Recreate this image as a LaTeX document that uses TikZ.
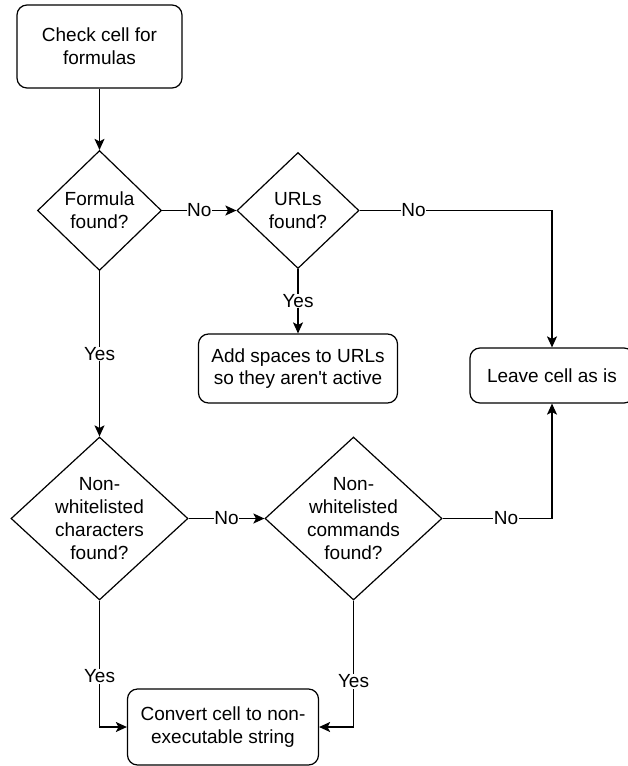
\documentclass[tikz,border=0pt]{standalone}
\usepackage{fontspec}
\setmainfont{Liberation Sans}
\usetikzlibrary{shapes.geometric,arrows.meta}
\begin{document}
\begin{tikzpicture}[x=1pt,y=-1pt,
  every node/.style={font=\fontsize{19}{22.8}\selectfont},
  box/.style={draw, rounded corners=10pt, line width=1.2pt, align=center, inner sep=0pt},
  dia/.style={draw, diamond, line width=1.2pt, inner sep=0pt},
  txt/.style={align=center, inner sep=0pt},
  lab/.style={fill=white, inner sep=0.5pt},
  arr/.style={line width=1.2pt, -{Stealth[length=11pt,width=10pt,inset=2.5pt]}}
]
\useasboundingbox (0,0) rectangle (627,766);

\node[box, minimum width=165, minimum height=83] (check) at (99.5,46.5) {Check cell for\\formulas};
\node[dia, minimum width=124, minimum height=120,
  label={[txt]center:{Formula\\found?}}] (formula) at (99.5,210.5) {};
\node[dia, minimum width=122, minimum height=116,
  label={[txt]center:{URLs\\found?}}] (urls) at (298,210.5) {};
\node[box, minimum width=199, minimum height=69] (add) at (298,368.5) {Add spaces to URLs\\so they aren\textquotesingle t active};
\node[box, minimum width=164, minimum height=55] (leave) at (552,375.5) {Leave cell as is};
\node[dia, minimum width=177, minimum height=163,
  label={[txt]center:{Non-\\whitelisted\\characters\\found?}}] (chars) at (99.5,518.5) {};
\node[dia, minimum width=177, minimum height=163,
  label={[txt]center:{Non-\\whitelisted\\commands\\found?}}] (cmds) at (353.5,518.5) {};
\node[box, minimum width=191, minimum height=76] (conv) at (223,727) {Convert cell to non-\\executable string};

\draw[arr] (check) -- (formula);
\draw[arr] (formula) -- node[lab]{No} (urls);
\draw[arr] (urls) -- node[lab]{Yes} (add);
\draw[arr] (urls.east) -| node[lab,pos=0.14]{No} (leave.north);
\draw[arr] (formula) -- node[lab]{Yes} (chars);
\draw[arr] (chars) -- node[lab]{No} (cmds);
\draw[arr] (cmds.east) -| node[lab,pos=0.29]{No} (leave.south);
\draw[arr] (chars.south) |- node[lab,pos=0.30]{Yes} (conv.west);
\draw[arr] (cmds.south) |- node[lab,pos=0.32]{Yes} (conv.east);
\end{tikzpicture}
\end{document}
